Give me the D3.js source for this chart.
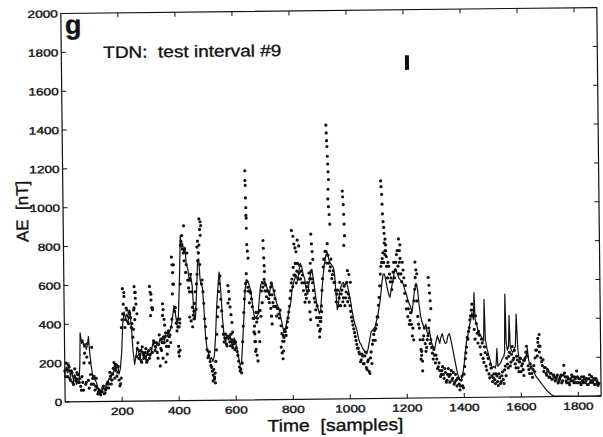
<!DOCTYPE html>
<html>
<head>
<meta charset="utf-8">
<script src="https://cdn.jsdelivr.net/npm/d3@7/dist/d3.min.js"></script>
<style>
  body { margin: 0; background: #fff; }
  text { font-family: "Liberation Sans", Arial, Helvetica, sans-serif; fill: #111; stroke: #111; stroke-width: 0.35; white-space: pre; }
</style>
</head>
<body>
<div class="chart"></div>
<script>
const width = 603;
const height = 437;
const margin = {top: 10.5, right: 4, bottom: 38, left: 63};

// tick values
const xTicks = [200, 400, 600, 800, 1000, 1200, 1400, 1600, 1800];
const yTicks = [0, 200, 400, 600, 800, 1000, 1200, 1400, 1600, 1800, 2000];

// network output (solid line), [sample, nT]
const predicted = [
  [0,140],[5,180],[10,150],[15,170],[20,130],[25,160],[30,110],[35,140],[40,90],[45,120],[50,110],[53,200],
  [55,355],[60,300],[64,320],[68,280],[72,300],[76,270],[80,290],[84,335],[88,250],[93,180],[98,130],[103,120],
  [110,100],[115,70],[120,50],[125,45],[130,55],[135,70],[140,60],[145,90],[150,100],[155,120],[160,110],[165,150],
  [170,140],[175,200],[180,160],[185,190],[190,140],[195,170],[200,250],[205,400],[210,460],[215,430],[220,450],
  [225,420],[230,470],[235,380],[240,260],[245,190],[250,230],[255,280],[260,250],[265,220],[270,270],[275,230],
  [280,250],[285,210],[290,260],[295,240],[300,230],[305,260],[310,300],[315,280],[320,270],[325,300],[330,290],
  [335,320],[340,300],[345,330],[350,310],[355,340],[360,330],[365,350],[370,360],[375,380],[380,430],[385,490],
  [390,450],[395,390],[400,420],[405,600],[410,850],[414,790],[418,810],[422,760],[426,790],[430,700],[435,680],
  [440,620],[445,640],[450,590],[455,440],[460,420],[465,560],[470,720],[474,730],[478,620],[482,600],[486,580],
  [490,480],[495,330],[500,260],[505,240],[510,210],[515,220],[520,200],[525,230],[530,330],[535,480],[540,580],
  [545,660],[550,560],[555,420],[560,330],[565,300],[570,330],[575,310],[580,340],[585,300],[590,270],[595,320],
  [600,300],[605,260],[610,220],[615,180],[620,190],[625,300],[630,420],[635,560],[640,620],[645,610],[650,590],
  [655,560],[660,500],[665,440],[670,420],[675,430],[680,440],[685,520],[690,590],[695,610],[700,600],[705,610],
  [710,590],[715,560],[720,540],[725,580],[730,600],[735,560],[740,530],[745,500],[750,480],[755,460],[760,420],
  [765,380],[770,345],[775,360],[780,400],[785,430],[790,470],[795,500],[800,560],[805,600],[810,620],[815,640],
  [820,610],[825,660],[830,700],[835,680],[840,640],[845,620],[850,560],[855,540],[860,600],[865,640],[870,670],
  [875,620],[880,560],[885,500],[890,470],[895,440],[900,460],[905,560],[910,640],[915,700],[920,740],[925,756],
  [930,720],[935,700],[940,690],[945,680],[950,640],[955,520],[958,460],[962,480],[966,540],[970,570],[975,590],
  [980,600],[985,580],[990,600],[995,580],[1000,540],[1005,500],[1010,450],[1015,410],[1020,380],[1025,360],
  [1030,320],[1035,290],[1040,280],[1045,260],[1050,250],[1055,240],[1060,230],[1065,260],[1070,300],[1076,345],
  [1080,350],[1085,360],[1090,370],[1095,400],[1100,430],[1105,470],[1110,520],[1115,590],[1120,640],[1125,640],
  [1130,600],[1135,560],[1140,530],[1143,520],[1148,560],[1153,600],[1158,640],[1164,668],[1170,640],[1175,620],
  [1180,610],[1185,600],[1190,590],[1195,560],[1200,540],[1205,510],[1210,488],[1215,470],[1220,440],[1225,500],
  [1230,560],[1235,591],[1240,560],[1245,480],[1250,420],[1255,390],[1260,370],[1263,360],[1268,380],[1272,340],
  [1276,320],[1280,350],[1285,300],[1290,270],[1295,260],[1298,252],[1303,290],[1308,320],[1312,300],[1316,280],
  [1320,310],[1325,330],[1330,300],[1335,280],[1340,283],[1345,320],[1350,330],[1355,300],[1360,260],[1365,220],
  [1370,180],[1375,140],[1380,110],[1385,87],[1390,90],[1395,120],[1400,160],[1405,230],[1410,290],[1415,320],
  [1420,360],[1425,400],[1430,437],[1435,400],[1438,540],[1441,400],[1445,380],[1450,350],[1455,330],[1460,320],
  [1465,300],[1470,290],[1473,504],[1476,300],[1480,260],[1485,230],[1490,200],[1495,170],[1500,150],[1505,160],
  [1510,150],[1513,170],[1516,250],[1519,160],[1525,170],[1530,180],[1535,200],[1540,210],[1543,230],[1546,530],
  [1549,280],[1553,240],[1557,260],[1560,420],[1563,260],[1567,240],[1572,230],[1577,250],[1581,260],[1585,427],
  [1589,260],[1593,200],[1597,190],[1600,200],[1605,190],[1610,180],[1615,200],[1620,220],[1623,250],[1626,200],
  [1630,170],[1635,160],[1640,140],[1645,130],[1650,110],[1655,100],[1660,90],[1665,80],[1670,70],[1675,60],
  [1680,50],[1685,40],[1690,30],[1695,25],[1700,18],[1705,10],[1710,5],[1720,2],[1750,1],[1800,0],[1880,0]
];

// measured AE (dots), one value every 5 samples from 0
const measuredStep = 5;
const measured = [
  160,200,130,180,110,150,90,170,120,140,
  100,80,130,60,250,100,300,70,140,280,
  90,60,120,40,60,35,50,80,45,70,
  100,90,130,110,170,120,190,150,110,90,
  380,450,560,420,470,400,450,380,330,480,
  560,270,220,260,200,250,230,270,210,260,
  240,550,480,300,280,250,290,180,320,440,
  300,200,310,360,340,380,550,700,480,360,
  250,420,800,850,760,780,700,620,560,650,
  480,420,560,600,720,800,850,620,500,380,
  260,230,200,170,130,110,200,340,480,600,
  520,380,300,340,280,500,300,340,270,290,
  300,250,200,150,140,300,450,560,650,580,
  500,550,480,350,250,400,450,300,430,500,
  600,560,530,560,500,580,540,480,520,430,
  470,420,380,300,320,350,370,420,480,560,
  620,680,640,600,700,650,620,600,560,500,
  520,600,650,700,620,560,500,420,380,350,
  420,560,680,720,760,800,700,680,620,660,
  600,500,560,520,480,560,520,480,550,500,
  520,450,400,360,320,280,260,230,200,220,
  180,240,150,200,130,240,280,330,300,380,
  420,520,640,700,750,800,760,620,680,600,
  560,650,620,700,760,640,720,600,660,540,
  460,420,380,440,320,300,560,580,420,360,
  200,140,320,280,260,320,400,300,230,250,
  180,200,160,140,120,160,100,130,90,150,
  80,140,100,70,120,60,100,40,90,60,
  120,200,260,300,360,420,480,450,300,380,
  280,320,220,280,180,230,140,200,100,150,
  80,120,70,110,60,100,80,130,70,160,
  200,150,230,180,260,200,170,210,150,180,
  130,170,110,200,260,160,120,150,100,160,
  200,240,280,230,200,160,130,150,110,130,
  100,120,90,110,80,100,70,90,110,80,
  160,100,70,90,60,80,100,70,90,130,
  70,90,60,80,100,70,90,60,110,80,
  70,90,60,80,55
];

// measured AE, the samples in between (2.5, 7.5, ...)
const measuredMid = [
  130,170,190,120,160,100,130,110,150,100,
  120,60,100,200,90,230,110,200,90,120,
  130,80,70,50,40,55,70,40,60,90,
  70,150,90,140,200,160,130,180,80,120,
  420,500,380,480,410,460,430,400,370,420,
  230,300,240,210,280,220,250,200,240,220,
  270,250,310,260,300,220,340,270,300,330,
  330,280,350,330,300,420,600,460,400,420,
  380,600,820,780,720,660,760,580,620,560,
  440,500,470,650,760,700,600,560,420,320,
  220,250,180,150,160,140,260,430,560,640,
  460,340,320,290,330,320,280,310,300,260,
  270,230,170,160,190,380,520,600,610,560,
  560,520,420,300,450,420,350,460,560,580,
  620,590,560,520,540,600,500,560,480,470,
  440,460,340,330,360,330,400,450,520,600,
  580,640,700,660,620,690,660,640,600,540,
  580,560,620,660,600,520,460,480,420,400,
  480,620,720,760,700,740,660,720,640,600,
  560,540,480,600,540,500,580,520,600,540,
  480,420,380,340,300,260,240,190,230,180,
  220,160,190,140,210,180,300,350,360,420,
  480,580,680,720,700,740,680,700,640,620,
  600,700,660,740,680,700,640,700,620,580,
  500,460,400,380,360,500,620,500,380,300,
  240,300,360,240,300,360,280,260,200,220,
  220,150,180,110,140,120,150,80,120,110,
  120,90,130,80,90,100,70,60,110,50,
  160,230,310,340,400,450,420,350,420,330,
  340,260,300,200,260,160,220,120,170,110,
  100,90,120,80,120,70,110,90,140,110,
  170,210,160,220,190,240,150,190,130,200,
  160,140,190,230,210,140,170,120,140,130,
  240,210,260,260,180,190,150,120,140,100,
  120,90,110,100,90,110,80,100,70,110,
  120,80,100,70,90,110,80,100,70,100,
  90,70,100,70,90,80,60,90,70,100,
  80,60,90,70,65
];

// scattered measured points away from the band, [sample, nT]
const measuredExtra = [
  [205,580],[210,540],[244,470],[246,590],[248,560],[250,530],[252,500],[255,450],
  [300,590],[302,560],[303,440],[305,520],[307,480],[310,470],
  [340,260],[345,500],[345,220],[347,470],[350,420],[352,390],[355,350],[360,240],[365,280],
  [378,740],[380,700],[382,660],[384,600],[398,380],[400,280],[402,230],[405,260],[405,400],
  [422,900],[440,430],[445,410],[450,380],[455,460],
  [468,790],[470,820],[473,760],[476,935],[478,880],[480,920],[482,900],
  [520,100],[525,120],[528,90],
  [575,590],[578,560],[580,520],[582,480],[585,440],[588,400],[590,350],
  [639,1180],[639,1130],[640,1105],[640,1040],[641,990],[641,950],[642,936],[642,884],[643,800],[645,766],[647,730],
  [665,420],[667,380],[668,340],[670,300],[672,260],[675,230],[678,200],
  [700,820],[701,780],[702,730],[703,690],[704,660],[725,470],[727,430],[729,390],
  [760,270],[763,240],[766,210],[768,250],[770,300],
  [800,870],[805,840],[808,800],[812,780],[815,760],[820,820],[825,790],
  [858,560],[860,500],[862,450],[864,410],[868,850],[870,800],[872,760],[874,720],
  [895,320],[898,360],[900,400],[903,450],
  [925,1410],[926,1370],[927,1330],[928,1300],[929,1250],[930,1210],[931,1170],[932,1130],
  [930,1080],[929,1030],[931,990],[933,950],[935,900],
  [980,1070],[981,1040],[983,1000],[984,950],[985,900],[986,840],[983,790],
  [995,660],[1000,640],[1005,600],
  [1115,1120],[1116,1090],[1118,1050],[1119,1000],[1120,950],[1122,910],[1124,880],[1125,850],
  [1128,820],[1130,790],[1127,760],[1132,730],
  [1175,820],[1178,760],[1180,790],[1232,700],[1235,660],[1238,640],
  [1250,250],[1252,220],[1255,190],[1278,620],[1280,580],[1282,540],[1284,500],[1286,460],
  [1660,300],[1665,320]
];

// small black bar near the top
const markerBar = {sample: 1212, low: 1690, high: 1765};

const svg = d3.select(".chart").append("svg")
    .attr("width", width)
    .attr("height", height);

// the scanned figure sits slightly rotated
const root = svg.append("g")
    .attr("transform", "rotate(-0.64, 331, 205)");

const xScale = d3.scaleLinear()
    .domain([0, 1880])
    .range([margin.left, width - margin.right]);

const yScale = d3.scaleLinear()
    .domain([0, 2000])
    .range([height - margin.bottom, margin.top]);

const x0 = xScale.range()[0], x1 = xScale.range()[1];
const y0 = yScale.range()[0], y1 = yScale.range()[1];
const tickLen = 4.5;

// measured dots
const dots = measured.map((v, i) => [i * measuredStep, v])
    .concat(measuredMid.map((v, i) => [i * measuredStep + measuredStep / 2, v]))
    .concat(measuredExtra);

root.append("g")
    .selectAll("circle")
    .data(dots)
    .enter()
    .append("circle")
    .attr("cx", d => xScale(d[0]))
    .attr("cy", d => yScale(d[1]))
    .attr("r", 1.6)
    .attr("fill", "#111");

// predicted line
const line = d3.line()
    .x(d => xScale(d[0]))
    .y(d => yScale(d[1]));

root.append("path")
    .datum(predicted)
    .attr("d", line)
    .attr("fill", "none")
    .attr("stroke", "#111")
    .attr("stroke-width", 1.2)
    .attr("stroke-linejoin", "round");

// frame
root.append("rect")
    .attr("x", x0)
    .attr("y", y1)
    .attr("width", x1 - x0)
    .attr("height", y0 - y1)
    .attr("fill", "none")
    .attr("stroke", "#111")
    .attr("stroke-width", 1.2);

// inward ticks on all four sides
const ticks = root.append("g").attr("stroke", "#111").attr("stroke-width", 1);
xTicks.forEach(t => {
    ticks.append("line").attr("x1", xScale(t)).attr("x2", xScale(t)).attr("y1", y0).attr("y2", y0 - tickLen);
    ticks.append("line").attr("x1", xScale(t)).attr("x2", xScale(t)).attr("y1", y1).attr("y2", y1 + tickLen);
});
yTicks.forEach(t => {
    ticks.append("line").attr("y1", yScale(t)).attr("y2", yScale(t)).attr("x1", x0).attr("x2", x0 + tickLen);
    ticks.append("line").attr("y1", yScale(t)).attr("y2", yScale(t)).attr("x1", x1).attr("x2", x1 - tickLen);
});

// tick labels
root.append("g")
    .selectAll("text")
    .data(xTicks)
    .enter()
    .append("text")
    .attr("transform", d => `translate(${xScale(d)},${y0 + 13.5}) scale(1.3,1)`)
    .attr("text-anchor", "middle")
    .style("font-size", "10.5px")
    .text(d => d);

root.append("g")
    .selectAll("text")
    .data(yTicks)
    .enter()
    .append("text")
    .attr("transform", d => `translate(${x0 - 3},${yScale(d) + 4}) scale(1.3,1)`)
    .attr("text-anchor", "end")
    .style("font-size", "10.5px")
    .text(d => d);

// axis titles
root.append("text")
    .attr("transform", `translate(333,431) scale(1.14,1)`)
    .attr("text-anchor", "middle")
    .style("font-size", "17px")
    .text("Time  [samples]");

root.append("text")
    .attr("transform", "translate(28,208) rotate(-90)")
    .attr("text-anchor", "middle")
    .style("font-size", "17px")
    .text("AE  [nT]");

// panel letter and caption
root.append("text")
    .attr("x", 67)
    .attr("y", 31)
    .style("font-size", "27px")
    .style("font-weight", "bold")
    .text("g");

root.append("text")
    .attr("transform", "translate(105,55.5) scale(1.15,1)")
    .style("font-size", "16.5px")
    .text("TDN:  test interval #9");

// marker bar
root.append("line")
    .attr("x1", xScale(markerBar.sample))
    .attr("x2", xScale(markerBar.sample))
    .attr("y1", yScale(markerBar.low))
    .attr("y2", yScale(markerBar.high))
    .attr("stroke", "#111")
    .attr("stroke-width", 4);
</script>
</body>
</html>
